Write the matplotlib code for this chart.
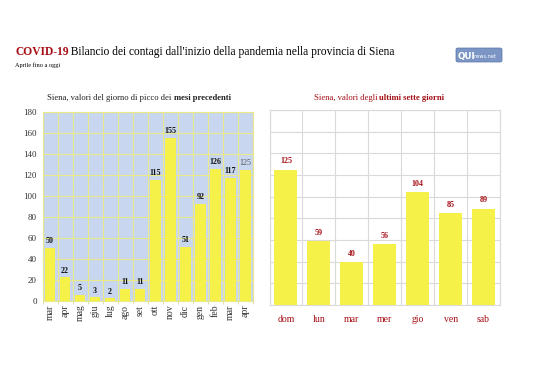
import matplotlib.pyplot as plt
from matplotlib.patches import FancyBboxPatch
import numpy as np

# dati: picco mensile e ultimi sette giorni
mesi = ['mar', 'apr', 'mag', 'giu', 'lug', 'ago', 'set', 'ott', 'nov', 'dic', 'gen', 'feb', 'mar', 'apr']
picchi = [50, 22, 5, 3, 2, 11, 11, 115, 155, 51, 92, 126, 117, 125]
giorni = ['dom', 'lun', 'mar', 'mer', 'gio', 'ven', 'sab']
ultimi = [125, 59, 40, 56, 104, 85, 89]

ROSSO = '#a50f15'
GIALLO = '#f5f149'
FONT = 'Liberation Serif'
plt.rcParams['font.family'] = FONT

fig = plt.figure(figsize=(5.38, 3.80), dpi=100)
W, H = 538.0, 380.0


def px(x, y):
    # coordinate in pixel (origine in alto a sinistra) -> frazioni figura
    return x / W, 1 - y / H


def testo_misto(parti, x, y, size, center=False):
    # scrive pezzi di testo con stili diversi uno dopo l'altro
    r = fig.canvas.get_renderer()
    items = []
    for s, w, c in parti:
        t = fig.text(0, 0, s, fontsize=size, fontweight=w, color=c, va='baseline')
        items.append(t)
    widths = [t.get_window_extent(r).width for t in items]
    tot = sum(widths)
    start = x - tot / 2 if center else x
    for t, wd in zip(items, widths):
        t.set_position(px(start, y))
        start += wd


# titolo
testo_misto([('COVID-19', 'bold', ROSSO),
              (' Bilancio dei contagi dall\'inizio della pandemia nella provincia di Siena', 'normal', 'black')],
             15, 55, 8.3)
fig.text(*px(15, 67), 'Aprile fino a oggi', fontsize=4.5, va='baseline')

# logo
lx, ly = px(456, 62)
logo = FancyBboxPatch((lx, ly), 46 / W, 14 / H, boxstyle='round,pad=0,rounding_size=0.004',
                      transform=fig.transFigure, facecolor='#7b96c4', edgecolor='#5a74a8', lw=0.5)
fig.patches.append(logo)
fig.text(*px(457.5, 59), 'QUI', fontsize=6.3, fontweight='bold', color='white',
         family='DejaVu Sans', va='baseline')
fig.text(*px(474, 58.5), 'news.net', fontsize=3.6, color='white', family='DejaVu Sans', va='baseline')

# sottotitoli dei grafici
testo_misto([('Siena, valori del giorno di picco dei ', 'normal', '#222222'),
             ('mesi precedenti', 'bold', '#222222')], 139, 100, 6.2, center=True)
testo_misto([('Siena, valori degli ', 'normal', ROSSO),
             ('ultimi sette giorni', 'bold', ROSSO)], 379, 100, 6.2, center=True)

# grafico di sinistra
ax1 = fig.add_axes([42.5 / W, 1 - 300.5 / H, 210.5 / W, 188.5 / H])
ax1.set_facecolor('#c8d6ef')
x1 = np.arange(len(mesi))
ax1.bar(x1, picchi, width=0.7, color=GIALLO, zorder=3)
ax1.set_xlim(-0.5, len(mesi) - 0.5)
ax1.set_ylim(0, 180)
ax1.set_yticks(range(0, 181, 20))
ax1.set_xticks(x1)
ax1.set_xticklabels(mesi, rotation=90)
ax1.set_xticks(np.arange(-0.5, len(mesi), 1), minor=True)
ax1.grid(True, which='minor', axis='x', color='#e9e98a', lw=0.8, zorder=1)
ax1.grid(True, which='major', axis='y', color='#e9e98a', lw=0.8, zorder=1)
ax1.tick_params(axis='y', labelsize=6.5, colors='#333333', length=0, pad=4)
ax1.tick_params(axis='x', labelsize=7, colors='#333333', length=0, pad=3)
ax1.tick_params(axis='x', which='minor', length=2, color='#d8d8a0')
for s in ax1.spines.values():
    s.set_color('#e9e98a')
for i, v in enumerate(picchi):
    last = i == len(picchi) - 1
    ax1.annotate(str(v), (i, v), xytext=(0, 2), textcoords='offset points',
                 ha='center', va='bottom', fontsize=5.8,
                 fontweight='normal' if last else 'bold',
                 color='#555555' if last else '#111111')

# grafico di destra
ax2 = fig.add_axes([269.5 / W, 1 - 305 / H, 230.5 / W, 195 / H])
x2 = np.arange(len(giorni))
ax2.bar(x2, ultimi, width=0.7, color=GIALLO, zorder=3)
ax2.set_xlim(-0.5, len(giorni) - 0.5)
ax2.set_ylim(0, 180)
ax2.set_yticks(range(0, 181, 20))
ax2.set_yticklabels([])
ax2.set_xticks(x2)
ax2.set_xticklabels(giorni)
ax2.set_xticks(np.arange(-0.5, len(giorni), 1), minor=True)
ax2.grid(True, which='minor', axis='x', color='#dadada', lw=0.8, zorder=1)
ax2.grid(True, which='major', axis='y', color='#dadada', lw=0.8, zorder=1)
ax2.tick_params(axis='both', which='both', length=0)
ax2.tick_params(axis='x', labelsize=7, colors=ROSSO, pad=7)
for s in ax2.spines.values():
    s.set_color('#dadada')
for i, v in enumerate(ultimi):
    ax2.annotate(str(v), (i, v), xytext=(0, 3), textcoords='offset points',
                 ha='center', va='bottom', fontsize=5.8, fontweight='bold', color=ROSSO)

fig.savefig('out.png', dpi=100)
